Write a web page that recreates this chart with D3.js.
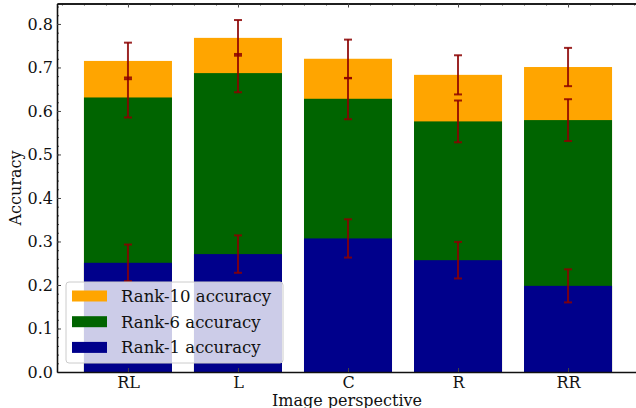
<!DOCTYPE html>
<html>
<head>
<meta charset="utf-8">
<script src="https://cdn.jsdelivr.net/npm/d3@7"></script>
<style>
  body { margin: 0; background: #fff; }
  text { font-family: "DejaVu Serif", serif; fill: #111; }
</style>
</head>
<body>
<div id="chart"></div>
<script>
// categories and series values
const categories = ['RL', 'L', 'C', 'R', 'RR'];
const rank10 = [0.715, 0.768, 0.720, 0.683, 0.701];
const rank6  = [0.631, 0.687, 0.628, 0.576, 0.579];
const rank1  = [0.251, 0.271, 0.307, 0.257, 0.198];
const err10  = [0.042, 0.041, 0.044, 0.045, 0.044];
const err6   = [0.046, 0.044, 0.047, 0.048, 0.048];
const err1   = [0.042, 0.043, 0.044, 0.042, 0.038];
const yTicks = [0.0, 0.1, 0.2, 0.3, 0.4, 0.5, 0.6, 0.7, 0.8];

const width = 636, height = 408;
const margin = {top: 3.5, left: 57, bottom: 36};
const plotRight = 639;

const svg = d3.select('#chart')
  .append('svg')
  .attr('width', width)
  .attr('height', height);

//Scales
const xScale = d3.scaleLinear()
  .domain([-0.645, categories.length - 1 + 0.645])
  .range([margin.left, plotRight]);

const yScale = d3.scaleLinear()
  .domain([0, 0.847])
  .range([height - margin.bottom, margin.top]);

const barW = xScale(0.8) - xScale(0);

const series = [
  {name: 'Rank-10 accuracy', values: rank10, errs: err10, color: '#FFA500'},
  {name: 'Rank-6 accuracy', values: rank6, errs: err6, color: '#006400'},
  {name: 'Rank-1 accuracy', values: rank1, errs: err1, color: '#00008B'}
];

//Bars, drawn from zero, largest first
series.forEach(s => {
  svg.append('g')
    .selectAll('rect')
    .data(s.values)
    .enter()
    .append('rect')
    .attr('x', (d, i) => xScale(i) - barW / 2)
    .attr('y', d => yScale(d))
    .attr('width', barW)
    .attr('height', d => yScale(0) - yScale(d))
    .attr('fill', s.color);
});

//Error bars
const errG = svg.append('g')
  .attr('stroke', '#8B0000')
  .attr('stroke-opacity', 0.85)
  .attr('stroke-width', 2);
series.forEach(s => {
  s.values.forEach((v, i) => {
    const cx = xScale(i);
    const top = yScale(v + s.errs[i]);
    const bot = yScale(v - s.errs[i]);
    errG.append('line').attr('x1', cx).attr('x2', cx).attr('y1', top).attr('y2', bot);
    errG.append('line').attr('x1', cx - 4).attr('x2', cx + 4).attr('y1', top).attr('y2', top);
    errG.append('line').attr('x1', cx - 4).attr('x2', cx + 4).attr('y1', bot).attr('y2', bot);
  });
});

//Axes
const yAxis = d3.axisLeft(yScale)
  .tickValues(yTicks)
  .tickFormat(d3.format('.1f'))
  .tickSizeInner(-4)
  .tickSizeOuter(0)
  .tickPadding(4);

const yMinor = d3.axisLeft(yScale)
  .tickValues(d3.range(0, 0.845, 0.02))
  .tickFormat('')
  .tickSizeInner(-2)
  .tickSizeOuter(0);

const xAxis = d3.axisBottom(xScale)
  .tickValues(d3.range(categories.length))
  .tickFormat(i => categories[i])
  .tickSizeInner(-4)
  .tickSizeOuter(0)
  .tickPadding(5);

const xMinorTicks = d3.range(-0.6, 4.7, 0.2).filter(v => Math.abs(v - Math.round(v)) > 0.01);

const xTop = d3.axisTop(xScale)
  .tickValues(d3.range(categories.length))
  .tickFormat('')
  .tickSizeInner(-4)
  .tickSizeOuter(0);

const xTopMinor = d3.axisTop(xScale)
  .tickValues(xMinorTicks)
  .tickFormat('')
  .tickSizeInner(-2)
  .tickSizeOuter(0);

svg.append('g').attr('transform', `translate(${margin.left},0)`).call(yMinor);
svg.append('g').attr('class', 'axis-y').attr('transform', `translate(${margin.left},0)`).call(yAxis);
svg.append('g').attr('class', 'axis-x').attr('transform', `translate(0,${yScale(0)})`).call(xAxis);
svg.append('g').attr('transform', `translate(0,${margin.top})`).call(xTopMinor);
svg.append('g').attr('transform', `translate(0,${margin.top})`).call(xTop);

svg.selectAll('.tick line').attr('stroke', '#444');
svg.selectAll('.domain').attr('stroke', '#111').attr('stroke-width', 1.3);
svg.selectAll('.axis-y text, .axis-x text')
  .style('font-family', '"DejaVu Serif", serif')
  .style('font-size', '16px')
  .attr('fill', '#111');

//Axis labels
svg.append('text')
  .attr('x', 347)
  .attr('y', 406)
  .attr('text-anchor', 'middle')
  .style('font-size', '16px')
  .text('Image perspective');

svg.append('text')
  .attr('transform', 'translate(21,188) rotate(-90)')
  .attr('text-anchor', 'middle')
  .style('font-size', '16px')
  .text('Accuracy');

//Legend
const legend = svg.append('g').attr('transform', 'translate(66,282)');
legend.append('rect')
  .attr('width', 217)
  .attr('height', 81)
  .attr('rx', 3)
  .attr('fill', '#fff')
  .attr('fill-opacity', 0.8)
  .attr('stroke', '#ccc')
  .attr('stroke-width', 1);

series.forEach((s, i) => {
  const row = legend.append('g').attr('transform', `translate(0,${14 + i * 25.7})`);
  row.append('rect')
    .attr('x', 6)
    .attr('y', -5.5)
    .attr('width', 35)
    .attr('height', 11)
    .attr('fill', s.color);
  row.append('text')
    .attr('x', 55)
    .attr('y', 6)
    .style('font-size', '16.5px')
    .text(s.name);
});
</script>
</body>
</html>
